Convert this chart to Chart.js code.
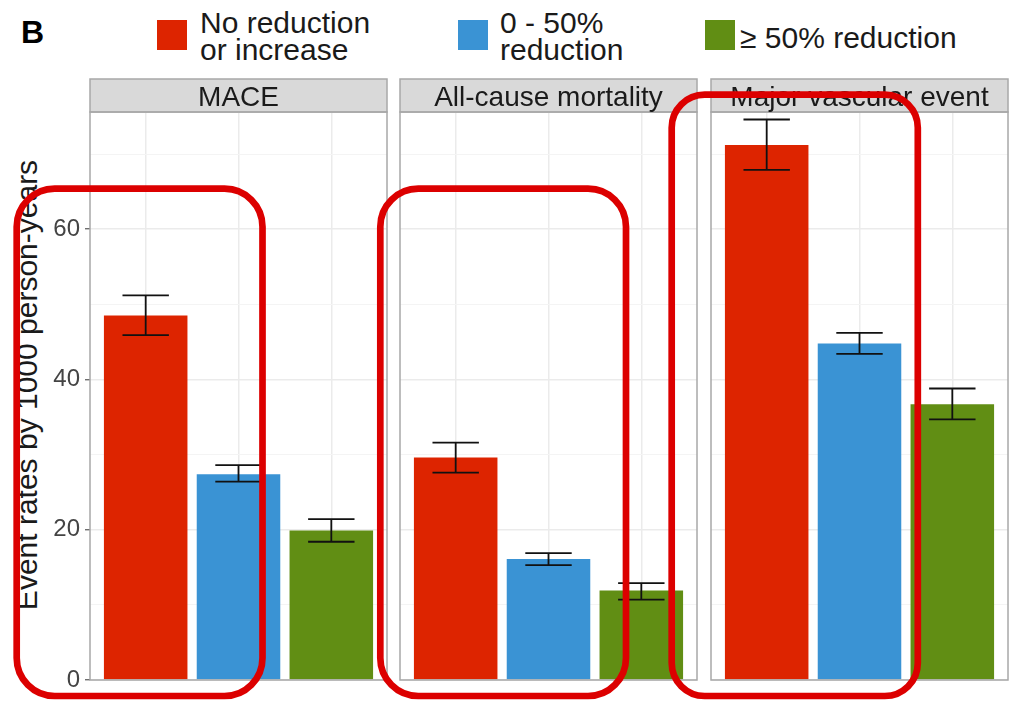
<!DOCTYPE html>
<html>
<head>
<meta charset="utf-8">
<script src="https://cdn.jsdelivr.net/npm/chart.js@4/dist/chart.umd.min.js"></script>
<style>
  html, body { margin: 0; padding: 0; background: #ffffff; }
  #page { position: relative; width: 1018px; height: 701px; overflow: hidden; font-family: "Liberation Sans", Arial, sans-serif; }
  canvas { position: absolute; left: 0; top: 0; }
  .txt { position: absolute; color: #1a1a1a; font-size: 30px; line-height: 27px; white-space: nowrap; }
  .key { position: absolute; width: 30px; height: 30px; }
  #tag { position: absolute; left: 21px; top: 12px; font-size: 32px; font-weight: bold; color: #000; line-height: 40px; }
  #ytitle { position: absolute; left: 27px; top: 385px; font-size: 30px; color: #1a1a1a; white-space: nowrap;
            transform: translate(-50%, -50%) rotate(-90deg); line-height: 34px; }
</style>
</head>
<body>
<div id="page">
  <div id="tag">B</div>
  <div id="legend"></div>
  <div id="ytitle">Event rates by 1000 person-years</div>
  <canvas id="c0" width="1018" height="701"></canvas>
  <canvas id="c1" width="1018" height="701"></canvas>
  <canvas id="c2" width="1018" height="701"></canvas>
</div>
<script>
// Facets (one panel per outcome) and the three change groups
const panels = ['MACE', 'All-cause mortality', 'Major vascular event'];
const groups = ['No reduction\nor increase', '0 - 50%\nreduction', '\u2265 50% reduction'];
const groupColors = ['#DD2400', '#3A93D4', '#618E14'];

// Event rates per 1000 person-years, one value per panel
const rateNoReduction = [48.5, 29.6, 71.2];
const rateUnder50 = [27.4, 16.1, 44.8];
const rateOver50 = [19.9, 11.9, 36.7];

// Confidence limits
const lowerNoReduction = [45.9, 27.6, 67.9];
const upperNoReduction = [51.2, 31.6, 74.6];
const lowerUnder50 = [26.4, 15.3, 43.4];
const upperUnder50 = [28.6, 16.9, 46.2];
const lowerOver50 = [18.4, 10.7, 34.7];
const upperOver50 = [21.4, 12.9, 38.8];

const yTickValues = [0, 10, 20, 30, 40, 50, 60, 70];
const yLabelled = [0, 20, 40, 60];
const yMax = 75.6;

const rates = [rateNoReduction, rateUnder50, rateOver50];
const lowers = [lowerNoReduction, lowerUnder50, lowerOver50];
const uppers = [upperNoReduction, upperUnder50, upperOver50];

// ---- legend ----
const legendLayout = [
  { key: [157, 20], text: [200, 9] },
  { key: [458, 20], text: [500, 9] },
  { key: [705, 20], text: [740, 24] }
];
const legendEl = document.getElementById('legend');
groups.forEach((g, i) => {
  const k = document.createElement('div');
  k.className = 'key';
  k.style.left = legendLayout[i].key[0] + 'px';
  k.style.top = legendLayout[i].key[1] + 'px';
  k.style.background = groupColors[i];
  legendEl.appendChild(k);
  const t = document.createElement('div');
  t.className = 'txt';
  t.style.left = legendLayout[i].text[0] + 'px';
  t.style.top = legendLayout[i].text[1] + 'px';
  t.innerHTML = g.split('\n').join('<br>');
  legendEl.appendChild(t);
});

// ---- panel geometry on the page ----
const PAGE_W = 1018, PAGE_H = 701;
const panelLeft = [90, 400, 711];
const panelWidth = 297;
const panelTop = 112, panelBottom = 680;
const stripTop = 79;

const FONT = '"Liberation Sans", Arial, sans-serif';

// error bars drawn through the chart's own scales
const errorBars = {
  id: 'errorBars',
  afterDatasetsDraw(chart, args, opts) {
    const { ctx, scales: { x, y } } = chart;
    const p = opts.panel;
    const half = x.getPixelForValue(1.25) - x.getPixelForValue(1);
    ctx.save();
    ctx.strokeStyle = '#111111';
    ctx.lineWidth = 1.8;
    chart.data.datasets.forEach((ds, i) => {
      const el = chart.getDatasetMeta(i).data[0];
      const yl = y.getPixelForValue(lowers[i][p]);
      const yh = y.getPixelForValue(uppers[i][p]);
      ctx.beginPath();
      ctx.moveTo(el.x, yl); ctx.lineTo(el.x, yh);
      ctx.moveTo(el.x - half, yl); ctx.lineTo(el.x + half, yl);
      ctx.moveTo(el.x - half, yh); ctx.lineTo(el.x + half, yh);
      ctx.stroke();
    });
    ctx.restore();
  }
};

// panel frame and facet strip
const facetFrame = {
  id: 'facetFrame',
  afterDraw(chart, args, opts) {
    const { ctx, chartArea: a } = chart;
    ctx.save();
    ctx.fillStyle = '#D9D9D9';
    ctx.fillRect(a.left, stripTop, a.right - a.left, a.top - stripTop);
    ctx.strokeStyle = '#A8A8A8';
    ctx.lineWidth = 1.5;
    ctx.strokeRect(a.left, stripTop, a.right - a.left, a.top - stripTop);
    ctx.strokeRect(a.left, a.top, a.right - a.left, a.bottom - a.top);
    ctx.fillStyle = '#1a1a1a';
    ctx.font = '28px ' + FONT;
    ctx.textAlign = 'center';
    ctx.textBaseline = 'alphabetic';
    ctx.fillText(panels[opts.panel], (a.left + a.right) / 2, 106);
    ctx.restore();
  }
};

// red highlight outlines around the compared bars
const highlightBoxes = [
  { x1: 16.7, y1: 188.7, x2: 262.5, y2: 696, r: 38 },
  { x1: 380.3, y1: 188.7, x2: 626, y2: 696, r: 38 },
  { x1: 671.7, y1: 94.7, x2: 917.8, y2: 696, r: 33 }
];
const highlights = {
  id: 'highlights',
  afterDraw(chart) {
    const ctx = chart.ctx;
    ctx.save();
    ctx.strokeStyle = '#DC0000';
    ctx.lineWidth = 6.7;
    highlightBoxes.forEach(b => {
      ctx.beginPath();
      ctx.roundRect(b.x1, b.y1, b.x2 - b.x1, b.y2 - b.y1, b.r);
      ctx.stroke();
    });
    ctx.restore();
  }
};

function makePanel(p) {
  const first = p === 0;
  const left = panelLeft[p];
  const right = left + panelWidth;
  const datasets = groups.map((g, i) => ({
    label: g.replace('\n', ' '),
    data: [{ x: i + 1, y: rates[i][p] }],
    backgroundColor: groupColors[i],
    borderWidth: 0,
    grouped: false,
    categoryPercentage: 0.9,
    barPercentage: 1.0
  }));
  const plugins = [errorBars, facetFrame];
  if (p === panels.length - 1) plugins.push(highlights);
  return new Chart(document.getElementById('c' + p), {
    type: 'bar',
    data: { datasets },
    plugins,
    options: {
      responsive: false,
      animation: false,
      devicePixelRatio: 1,
      layout: { padding: { left: first ? 0 : left, right: PAGE_W - right, top: panelTop, bottom: PAGE_H - panelBottom } },
      plugins: {
        legend: { display: false },
        tooltip: { enabled: false },
        errorBars: { panel: p },
        facetFrame: { panel: p }
      },
      scales: {
        x: {
          type: 'linear',
          min: 0.4,
          max: 3.6,
          offset: false,
          afterBuildTicks: s => { s.ticks = [1, 2, 3].map(v => ({ value: v })); },
          afterFit: s => { s.height = 0; },
          ticks: { display: false },
          border: { display: false },
          grid: { offset: false, color: '#EBEBEB', lineWidth: 1.5, drawTicks: false }
        },
        y: {
          min: 0,
          max: yMax,
          afterBuildTicks: s => { s.ticks = yTickValues.map(v => ({ value: v })); },
          afterFit: s => { s.width = first ? left : 0; },
          border: { display: false },
          grid: {
            color: c => (yLabelled.includes(c.tick.value) ? '#EBEBEB' : '#F4F4F4'),
            lineWidth: c => (yLabelled.includes(c.tick.value) ? 1.5 : 1),
            drawTicks: first,
            tickLength: 5,
            tickColor: c => (yLabelled.includes(c.tick.value) ? '#555555' : 'rgba(0,0,0,0)'),
            tickWidth: 1.2
          },
          ticks: {
            display: first,
            padding: 5,
            color: '#444444',
            font: { family: FONT, size: 24 },
            callback: v => (yLabelled.includes(v) ? String(v) : '')
          }
        }
      }
    }
  });
}

panels.forEach((_, p) => makePanel(p));
</script>
</body>
</html>
